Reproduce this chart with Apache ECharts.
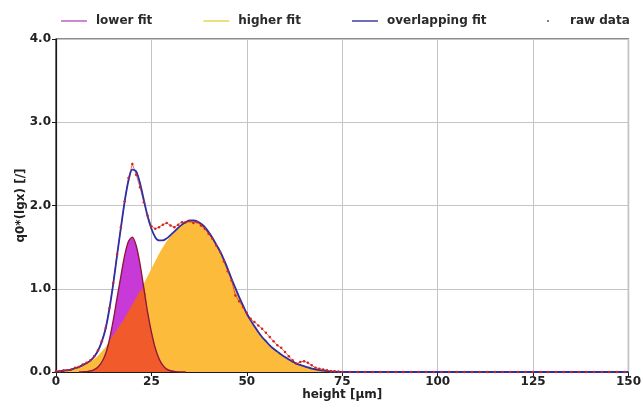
<!DOCTYPE html>
<html>
<head>
<meta charset="utf-8">
<script src="https://cdn.jsdelivr.net/npm/echarts@6/dist/echarts.min.js"></script>
<style>
    html, body { margin: 0; padding: 0; background: #fff; }
    #chart { width: 644px; height: 407px; }
</style>
</head>
<body>
<div id="chart"></div>
<script>
// Sample positions (height in µm), step 1 from 0 to 75
const heights = [
    0, 1, 2, 3, 4, 5, 6, 7, 8, 9, 10, 11, 12, 13, 14, 15, 16, 17, 18, 19,
    20, 21, 22, 23, 24, 25, 26, 27, 28, 29, 30, 31, 32, 33, 34, 35, 36, 37, 38, 39,
    40, 41, 42, 43, 44, 45, 46, 47, 48, 49, 50, 51, 52, 53, 54, 55, 56, 57, 58, 59,
    60, 61, 62, 63, 64, 65, 66, 67, 68, 69, 70, 71, 72, 73, 74, 75
];

const lowerFit = [
    0, 0, 0, 0, 0, 0, 0, 0.002, 0.005, 0.012, 0.028, 0.06, 0.12, 0.22, 0.39, 0.62, 0.89, 1.15, 1.40, 1.57,
    1.62, 1.52, 1.30, 1.01, 0.72, 0.48, 0.29, 0.16, 0.08, 0.035, 0.015, 0.006, 0.002, 0, 0, 0, 0, 0, 0, 0,
    0, 0, 0, 0, 0, 0, 0, 0, 0, 0, 0, 0, 0, 0, 0, 0, 0, 0, 0, 0,
    0, 0, 0, 0, 0, 0, 0, 0, 0, 0, 0, 0, 0, 0, 0, 0
];

const higherFit = [
    0.005, 0.01, 0.015, 0.022, 0.03, 0.045, 0.06, 0.08, 0.10, 0.125, 0.155, 0.195, 0.245, 0.30, 0.37, 0.44, 0.51, 0.58, 0.65, 0.73,
    0.81, 0.89, 0.97, 1.06, 1.15, 1.24, 1.33, 1.42, 1.50, 1.57, 1.63, 1.68, 1.73, 1.77, 1.80, 1.82, 1.82, 1.81, 1.78, 1.74,
    1.68, 1.61, 1.53, 1.45, 1.35, 1.24, 1.12, 1.01, 0.90, 0.80, 0.70, 0.62, 0.55, 0.48, 0.42, 0.37, 0.32, 0.28, 0.245, 0.21,
    0.18, 0.15, 0.125, 0.10, 0.085, 0.07, 0.055, 0.042, 0.032, 0.023, 0.016, 0.01, 0.006, 0.003, 0.001, 0
];

const overlappingFit = [
    0.005, 0.01, 0.015, 0.022, 0.03, 0.045, 0.06, 0.082, 0.105, 0.137, 0.183, 0.255, 0.365, 0.52, 0.76, 1.06, 1.40, 1.73, 2.05, 2.30,
    2.43, 2.41, 2.27, 2.07, 1.87, 1.72, 1.62, 1.58, 1.58, 1.605, 1.645, 1.686, 1.732, 1.77, 1.80, 1.82, 1.82, 1.81, 1.78, 1.74,
    1.68, 1.61, 1.53, 1.45, 1.35, 1.24, 1.12, 1.01, 0.90, 0.80, 0.70, 0.62, 0.55, 0.48, 0.42, 0.37, 0.32, 0.28, 0.245, 0.21,
    0.18, 0.15, 0.125, 0.10, 0.085, 0.07, 0.055, 0.042, 0.032, 0.023, 0.016, 0.01, 0.006, 0.003, 0.001, 0
];

const rawData = [
    0.01, 0.01, 0.02, 0.02, 0.03, 0.05, 0.06, 0.09, 0.11, 0.14, 0.19, 0.26, 0.37, 0.53, 0.77, 1.07, 1.41, 1.74, 2.05, 2.33,
    2.50, 2.37, 2.22, 2.04, 1.88, 1.75, 1.72, 1.74, 1.77, 1.79, 1.76, 1.74, 1.77, 1.80, 1.80, 1.81, 1.79, 1.80, 1.76, 1.72,
    1.66, 1.60, 1.52, 1.44, 1.33, 1.21, 1.10, 0.92, 0.85, 0.78, 0.71, 0.64, 0.60, 0.56, 0.52, 0.47, 0.42, 0.37, 0.32, 0.29,
    0.24, 0.19, 0.14, 0.10, 0.12, 0.13, 0.11, 0.08, 0.05, 0.04, 0.03, 0.02, 0.01, 0.01, 0.005, 0
];

// raw data keeps going along zero up to the end of the axis
const rawTailHeights = [
    77, 79, 81, 83, 85, 87, 89, 91, 93, 95, 97, 99, 101, 103, 105, 107, 109, 111, 113, 115,
    117, 119, 121, 123, 125, 127, 129, 131, 133, 135, 137, 139, 141, 143, 145, 147, 149
];
const rawTailValues = [
    0, 0, 0, 0, 0, 0, 0, 0, 0, 0, 0, 0, 0, 0, 0, 0, 0, 0, 0, 0,
    0, 0, 0, 0, 0, 0, 0, 0, 0, 0, 0, 0, 0, 0, 0, 0, 0
];

const xTicks = { min: 0, max: 150, interval: 25 };
const yTicks = { min: 0, max: 4, interval: 1 };

// pair helpers
const pairs = (xs, ys) => xs.map((x, i) => [x, ys[i]]);
const fitEnd = [150, 0];

const font = 'DejaVu Sans';
const legendText = { fontFamily: font, fontWeight: 'bold', fontSize: 12, color: '#2a2a2a', padding: [0, 0, 0, 4] };
const chart = echarts.init(document.getElementById('chart'), null, { renderer: 'canvas' });

const option = {
    animation: false,
    textStyle: { fontFamily: font },
    grid: {
        left: 56, right: 13, top: 39, bottom: 35,
        show: true, borderColor: '#1a1a1a', borderWidth: 1.2
    },
    legend: [
        {
            left: 56, top: 10,
            icon: 'rect',
            itemWidth: 26, itemHeight: 2, itemGap: 51,
            textStyle: legendText,
            data: [
                { name: 'lower fit', itemStyle: { color: '#c98bd0' }, lineStyle: { color: '#c98bd0' } },
                { name: 'higher fit', itemStyle: { color: '#ebe07c' }, lineStyle: { color: '#ebe07c' } },
                { name: 'overlapping fit', itemStyle: { color: '#6e6eb4' }, lineStyle: { color: '#6e6eb4' } }
            ]
        },
        {
            left: 542, top: 10,
            icon: 'circle',
            itemWidth: 26, itemHeight: 2,
            textStyle: legendText,
            data: [{ name: 'raw data', itemStyle: { color: '#555' } }]
        }
    ],
    xAxis: {
        type: 'value', min: xTicks.min, max: xTicks.max, interval: xTicks.interval,
        name: 'height [µm]', nameLocation: 'middle', nameGap: 17, nameMoveOverlap: false,
        nameTextStyle: { fontFamily: font, fontWeight: 'bold', fontSize: 12, color: '#222' },
        axisLine: { lineStyle: { color: '#1a1a1a', width: 1.2 } },
        axisTick: { show: true, length: 4, lineStyle: { color: '#1a1a1a' } },
        axisLabel: { fontFamily: font, fontWeight: 'bold', fontSize: 12, color: '#222', margin: 4 },
        splitLine: { show: true, lineStyle: { color: '#c4c4c4', width: 1 } }
    },
    yAxis: {
        type: 'value', min: yTicks.min, max: yTicks.max, interval: yTicks.interval,
        name: 'q0*(lgx) [/]', nameLocation: 'middle', nameGap: 29, nameRotate: 90, nameMoveOverlap: false,
        nameTextStyle: { fontFamily: font, fontWeight: 'bold', fontSize: 12, color: '#222' },
        axisLine: { show: true, lineStyle: { color: '#1a1a1a', width: 1.2 } },
        axisTick: { show: true, length: 4, lineStyle: { color: '#1a1a1a' } },
        axisLabel: { fontFamily: font, fontWeight: 'bold', fontSize: 12, color: '#222', margin: 5,
            formatter: v => v.toFixed(1) },
        splitLine: { show: true, lineStyle: { color: '#c4c4c4', width: 1 } }
    },
    series: [
        {
            name: 'higher fit', type: 'line', smooth: 0.3, showSymbol: false,
            data: pairs(heights, higherFit).concat([fitEnd]),
            lineStyle: { width: 0 },
            itemStyle: { color: '#fdbb3c' },
            areaStyle: { color: '#fdbb3c', opacity: 1 }
        },
        {
            name: 'lower fit', type: 'line', smooth: 0.3, showSymbol: false,
            data: pairs(heights, lowerFit),
            lineStyle: { width: 0 },
            itemStyle: { color: '#c73ad8' },
            areaStyle: { color: '#c73ad8', opacity: 1 }
        },
        {
            // part of the lower fit that lies under the higher fit
            name: 'overlap', type: 'line', smooth: 0.3, showSymbol: false,
            data: heights.map((x, i) => [x, Math.min(lowerFit[i], higherFit[i])]),
            lineStyle: { width: 0 },
            itemStyle: { color: '#f15a2b' },
            areaStyle: { color: '#f15a2b', opacity: 1 }
        },
        {
            name: 'lower fit', type: 'line', smooth: 0.3, showSymbol: false,
            data: pairs(heights, lowerFit).filter(p => p[0] >= 6 && p[0] <= 34),
            lineStyle: { color: '#8b1a3c', width: 1.4 },
            itemStyle: { color: '#8b1a3c' }
        },
        {
            name: 'raw data', type: 'line', smooth: false,
            symbol: 'circle', symbolSize: 2.5, showSymbol: true,
            data: pairs(heights, rawData).concat(pairs(rawTailHeights, rawTailValues)),
            lineStyle: { color: '#e0321e', width: 1, opacity: 0.7 },
            itemStyle: { color: '#d0261c' }
        },
        {
            name: 'overlapping fit', type: 'line', smooth: 0.3, showSymbol: false,
            data: pairs(heights, overlappingFit).concat([fitEnd]),
            lineStyle: { color: '#2e2ea8', width: 1.8 },
            itemStyle: { color: '#2e2ea8' }
        }
    ]
};

chart.setOption(option);
</script>
</body>
</html>
